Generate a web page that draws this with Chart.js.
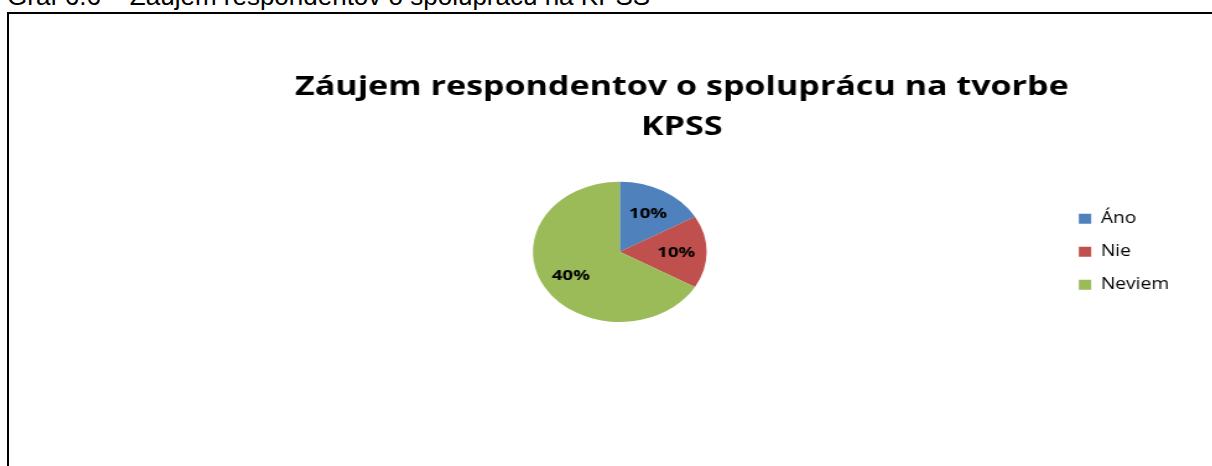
<!DOCTYPE html>
<html>
<head>
<meta charset="utf-8">
<script src="https://cdn.jsdelivr.net/npm/chart.js@4"></script>
<style>
  html, body { margin: 0; padding: 0; background: #fff; overflow: hidden; }
  body { width: 1212px; height: 466px; position: relative; }
  #caption {
    position: absolute; left: 7px; top: -17px;
    font: 26px/26px "Liberation Sans", Arial, sans-serif; color: #000; white-space: nowrap;
  }
  #frame {
    position: absolute; left: 7px; top: 12px; width: 1300px; height: 500px;
    border-left: 2px solid #000; border-top: 2px solid #000;
  }
  /* the original chart is stretched sideways, so the canvas gets stretched too */
  #stretch { transform: scaleX(1.238); transform-origin: 0 0; }
</style>
</head>
<body>
<div id="caption">Graf 6.6 – Záujem respondentov o spoluprácu na KPSS</div>
<div id="frame">
  <div id="stretch"><canvas id="chartCanvas" width="972" height="452"></canvas></div>
</div>
<script>
// data from the chart
var nadpis = ['Záujem respondentov o spoluprácu na tvorbe', 'KPSS']
var kategorie = ['Áno', 'Nie', 'Neviem']
var hodnoty = [10, 10, 40]
var farby = ['#4F81BD', '#C0504D', '#9BBB59']

Chart.defaults.font.family = '"Open Sans", sans-serif'
Chart.defaults.color = '#000'

// write "10%" etc. inside each slice
var percentLabels = {
    id: 'percentLabels',
    afterDatasetsDraw(chart) {
        var ctx = chart.ctx
        var meta = chart.getDatasetMeta(0)
        ctx.save()
        ctx.font = 'bold 15px "Open Sans"'
        ctx.fillStyle = '#000'
        ctx.textAlign = 'center'
        ctx.textBaseline = 'middle'
        meta.data.forEach((arc, i) => {
            var p = arc.getProps(['x', 'y', 'startAngle', 'endAngle', 'outerRadius'])
            var mid = (p.startAngle + p.endAngle) / 2
            var r = p.outerRadius * 0.65
            ctx.fillText(hodnoty[i] + '%', p.x + Math.cos(mid) * r, p.y + Math.sin(mid) * r + 1)
        })
        ctx.restore()
    }
}

var myChart = new Chart(document.getElementById('chartCanvas'), {
    type: 'pie',
    data: {
        labels: kategorie,
        datasets: [{
            data: hodnoty,
            backgroundColor: farby,
            borderWidth: 0
        }]
    },
    options: {
        responsive: false,
        animation: false,
        layout: { padding: { left: 140, right: 25, top: 0, bottom: 144 } },
        plugins: {
            title: {
                display: true,
                text: nadpis,
                color: '#000',
                font: { size: 27.5, weight: 'bold', lineHeight: 1.45 },
                padding: { top: 53.3, bottom: 34.6 }
            },
            legend: {
                position: 'right',
                align: 'center',
                fullSize: false,
                labels: {
                    color: '#000',
                    boxWidth: 10,
                    boxHeight: 10,
                    padding: 17.5,
                    font: { size: 15.5 }
                }
            },
            tooltip: { enabled: false }
        }
    },
    plugins: [percentLabels]
})
</script>
</body>
</html>
